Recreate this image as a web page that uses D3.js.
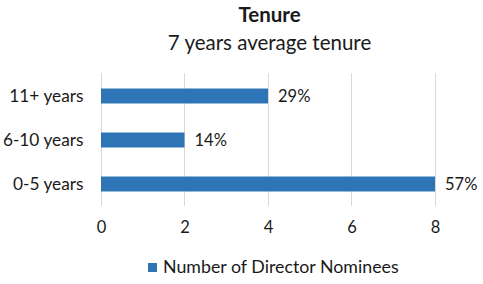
<!DOCTYPE html>
<html><head><meta charset="utf-8">
<script src="https://cdn.jsdelivr.net/npm/d3@7"></script>
<style>body{margin:0;background:#fff}svg{display:block}text{font-family:Lato,"Open Sans",sans-serif;fill:#1a1a1a}</style>
</head><body>
<script>
const categories = ["11+ years", "6-10 years", "0-5 years"];
const values = [4, 2, 8];
const labels = ["29%", "14%", "57%"];
const ticks = [0, 2, 4, 6, 8];
const seriesName = "Number of Director Nominees";
const title = "Tenure";
const subtitle = "7 years average tenure";

const W = 483, H = 284;
const FONT = 'Lato,"Open Sans",sans-serif';
const svg = d3.select("body").append("svg").attr("width", W).attr("height", H);
const x = d3.scaleLinear().domain([0, 8]).range([101, 435]);
const y = d3.scaleBand().domain(categories).range([74, 206]).paddingInner(0.66).paddingOuter(0.33);
const color = "#2E75B6";

svg.append("text").attr("x", 269.5).attr("y", 22).attr("text-anchor", "middle")
  .attr("font-size", 20.5).attr("font-weight", "bold").text(title);
svg.append("text").attr("x", 269.5).attr("y", 50).attr("text-anchor", "middle")
  .attr("font-size", 20.5).text(subtitle);

svg.append("g").selectAll("line").data(ticks).join("line")
  .attr("x1", d => x(d)).attr("x2", d => x(d)).attr("y1", 73).attr("y2", 206)
  .attr("stroke", "#d9d9d9").attr("stroke-width", 1).attr("shape-rendering", "crispEdges");

const xAxis = d3.axisBottom(x).tickValues(ticks).tickSize(0).tickPadding(0);
const gx = svg.append("g").attr("transform", "translate(0,221)").call(xAxis);
gx.select(".domain").remove();
gx.selectAll("text").attr("font-size", 16.5).attr("fill", "#1a1a1a").attr("font-family", FONT);

const yAxis = d3.axisLeft(y).tickSize(0).tickPadding(0);
const gy = svg.append("g").attr("transform", "translate(83.5,0)").call(yAxis);
gy.select(".domain").remove();
gy.selectAll("text").attr("font-size", 17.3).attr("fill", "#1a1a1a").attr("font-family", FONT);

svg.append("g").selectAll("rect").data(categories).join("rect")
  .attr("x", x(0)).attr("y", d => y(d))
  .attr("width", (d, i) => x(values[i]) - x(0)).attr("height", y.bandwidth())
  .attr("fill", color);

svg.append("g").selectAll("text").data(categories).join("text")
  .attr("x", (d, i) => x(values[i]) + 10).attr("y", d => y(d) + y.bandwidth() / 2)
  .attr("dy", "0.35em").attr("font-size", 16.5).text((d, i) => labels[i]);

const lg = svg.append("g");
lg.append("rect").attr("x", 148).attr("y", 263).attr("width", 9).attr("height", 9).attr("fill", color);
lg.append("text").attr("x", 163).attr("y", 272.5).attr("font-size", 17.8).text(seriesName);
</script>
</body></html>
